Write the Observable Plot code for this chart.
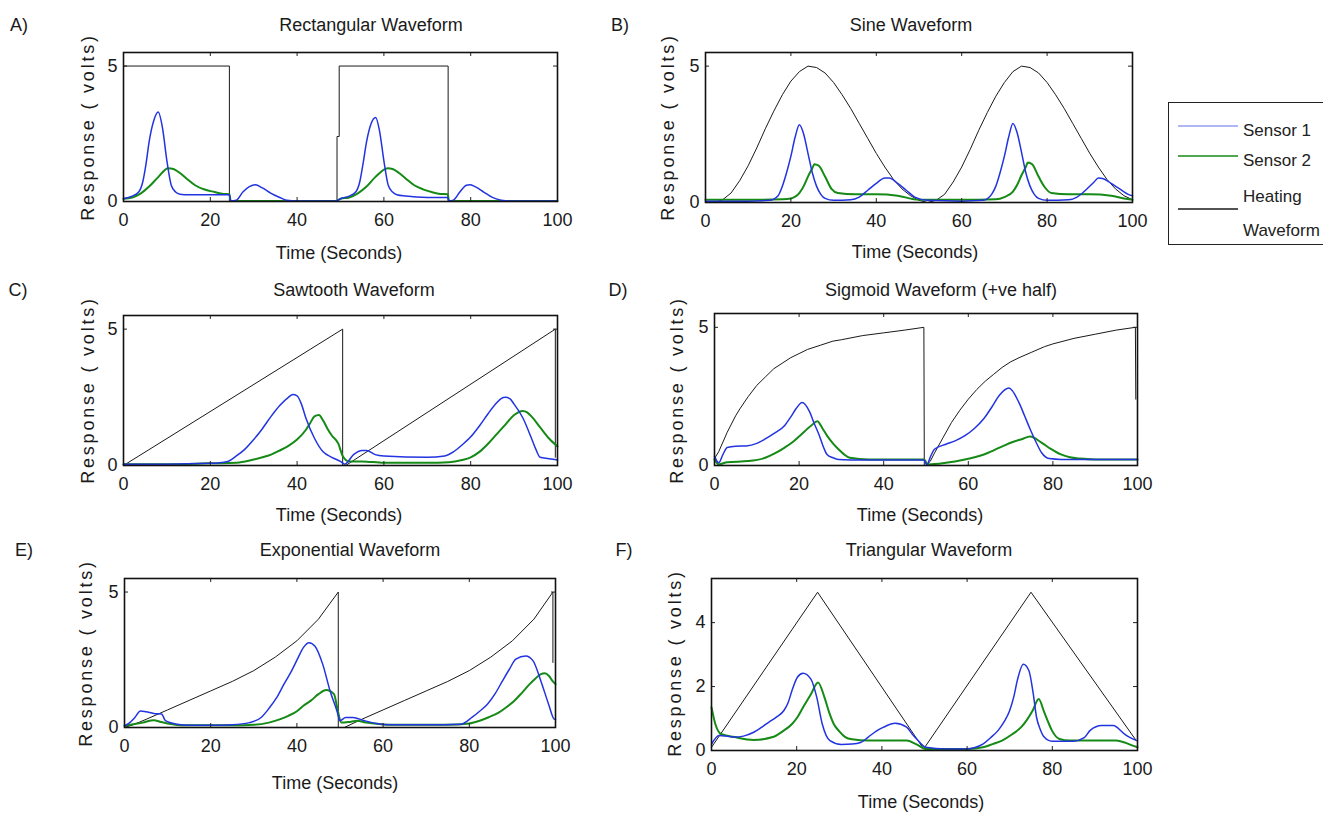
<!DOCTYPE html>
<html><head><meta charset="utf-8">
<script src="https://cdn.jsdelivr.net/npm/d3@7"></script>
<script src="https://cdn.jsdelivr.net/npm/@observablehq/plot@0.6"></script>
<style>
body{margin:0;background:#fff;}
#page{position:relative;width:1323px;height:814px;overflow:hidden;background:#fff;
 font-family:"Liberation Sans",Arial,sans-serif;color:#1a1a1a;}
.lbl{position:absolute;white-space:nowrap;font-size:18px;line-height:1;transform:translate(-50%,-50%);}
.ylab{transform:translate(-50%,-50%) rotate(-90deg);letter-spacing:2.8px;font-size:18px;}
</style></head>
<body><div id="page"></div>
<script>
// ---------- data ----------
const xTicks = [0, 20, 40, 60, 80, 100];
const yTicks5 = [0, 5];
const yTicksF = [0, 2, 4];
const panelLetters = ["A)", "B)", "C)", "D)", "E)", "F)"];
const panelTitles = ["Rectangular Waveform", "Sine Waveform", "Sawtooth Waveform",
  "Sigmoid Waveform (+ve half)", "Exponential Waveform", "Triangular Waveform"];
const xLabel = "Time (Seconds)";
const yLabel = "Response ( volts)";
const seriesNames = ["Sensor 1", "Sensor 2", "Heating\nWaveform"];

// A) rectangular
const rectHeat = [[0,5],[24.4,5],[24.4,0],[49.2,0],[49.2,2.4],[49.7,2.4],[49.7,5],[74.8,5],[74.8,0],[100,0]];
const rectS1 = [[0,0.1],[2,0.2],[3.5,0.35],[4.4,0.7],[5.2,1.4],[5.9,2.2],[7,3.0],[8,3.3],[9,2.7],[10,1.5],[11,0.6],[12,0.35],[13,0.27],[15,0.25],[20,0.25],[24.4,0.25],[24.7,0.02],[26,0.05],[27.5,0.35],[29,0.55],[30.4,0.62],[32,0.5],[34,0.3],[36,0.15],[37.6,0.05],[40,0.02],[49,0.02],[50,0.1],[52,0.2],[53.5,0.35],[54.4,0.7],[55.2,1.4],[56,2.2],[57,2.85],[58.1,3.1],[59,2.6],[60,1.5],[61,0.6],[62,0.35],[63,0.25],[65,0.2],[70,0.15],[74.7,0.15],[75,0.02],[76,0.05],[77.5,0.35],[79,0.6],[79.8,0.62],[81,0.55],[83,0.35],[85,0.15],[87,0.05],[90,0.02],[100,0.02]];
const rectS2 = [[0,0.1],[2,0.15],[4,0.3],[5.9,0.55],[8,0.9],[10.3,1.23],[11.5,1.2],[13,1.05],[14.5,0.85],[16.5,0.6],[18.5,0.45],[21,0.35],[23,0.28],[24.4,0.27],[24.7,0.02],[49,0.02],[50,0.1],[52,0.15],[54,0.3],[56,0.55],[58,0.9],[60.9,1.23],[62,1.2],[63.5,1.05],[65,0.85],[67,0.6],[69,0.45],[71,0.35],[73,0.28],[74.7,0.27],[75,0.02],[100,0.02]];

// B) sine
const sineHeat = [[0,0.02],[2,0],[4,0.1],[6,0.35],[8,0.8],[10,1.35],[12,2.0],[14,2.7],[16,3.35],[18,3.95],[20,4.45],[22,4.8],[24,5.0],[26,4.95],[28,4.75],[30,4.4],[32,3.95],[34,3.45],[36,2.9],[38,2.35],[40,1.8],[42,1.3],[44,0.85],[46,0.5],[48,0.25],[50,0.08],[52,0],[54,0.08],[56,0.3],[58,0.75],[60,1.3],[62,1.95],[64,2.65],[66,3.3],[68,3.9],[70,4.4],[72,4.8],[74,5.0],[76,4.95],[78,4.75],[80,4.4],[82,3.95],[84,3.45],[86,2.9],[88,2.35],[90,1.8],[92,1.3],[94,0.85],[96,0.5],[98,0.25],[100,0.1]];
const sineS1 = [[0,0.05],[5,0.05],[10,0.05],[15,0.08],[17,0.25],[18,0.6],[19,1.1],[20,1.7],[21,2.4],[22,2.85],[23,2.5],[24,1.8],[25,1.1],[26,0.6],[27,0.3],[28,0.15],[30,0.08],[34,0.1],[36,0.2],[38,0.45],[40,0.7],[42,0.9],[43,0.9],[45,0.7],[47,0.45],[49,0.2],[52,0.08],[60,0.05],[65,0.08],[67,0.3],[68,0.6],[69,1.1],[70,1.7],[71,2.4],[72,2.9],[73,2.55],[74,1.85],[75,1.1],[76,0.6],[77,0.3],[78,0.15],[80,0.08],[85,0.1],[87,0.2],[89,0.45],[91,0.75],[92,0.9],[93,0.88],[95,0.7],[97,0.5],[99,0.3],[100,0.25]];
const sineS2 = [[0,0.1],[10,0.1],[18,0.12],[20,0.15],[22,0.35],[23,0.6],[24,0.95],[25,1.25],[25.5,1.4],[26.5,1.35],[28,0.95],[29.5,0.5],[31,0.35],[35,0.3],[40,0.3],[45,0.25],[50,0.1],[60,0.1],[68,0.12],[70,0.2],[72,0.4],[73,0.65],[74,1.0],[75,1.3],[75.5,1.47],[76.5,1.4],[78,0.95],[79.5,0.55],[81,0.35],[85,0.3],[90,0.3],[95,0.25],[98,0.15],[100,0.1]];

// C) sawtooth
const sawHeat = [[0,0],[50.5,5],[50.5,0],[51.2,0],[99.5,5],[99.5,0.3]];
const sawS1 = [[0,0.05],[10,0.05],[20,0.08],[24,0.15],[26,0.35],[28,0.6],[30,0.95],[32,1.35],[34,1.8],[36,2.2],[38,2.5],[39,2.6],[40,2.55],[41,2.25],[42,1.75],[44,1.0],[46,0.5],[48,0.3],[50,0.15],[51,0.05],[53,0.4],[55,0.55],[56,0.55],[58,0.4],[60,0.35],[70,0.3],[74,0.35],[76,0.5],[78,0.75],[80,1.05],[82,1.45],[84,1.9],[86,2.3],[87,2.45],[88,2.5],[89,2.45],[90,2.25],[92,1.75],[94,1.0],[95,0.6],[96,0.3],[98,0.25],[100,0.2]];
const sawS2 = [[0,0.05],[10,0.05],[20,0.08],[26,0.1],[28,0.15],[30,0.22],[32,0.3],[34,0.4],[36,0.55],[38,0.72],[40,0.95],[42,1.3],[43,1.55],[44,1.8],[45,1.85],[46,1.65],[47,1.35],[48,1.1],[49.5,0.8],[50.5,0.35],[52,0.15],[55,0.15],[60,0.1],[70,0.1],[75,0.12],[78,0.2],[80,0.3],[82,0.5],[84,0.8],[86,1.15],[88,1.5],[90,1.85],[92,2.0],[93,1.95],[94,1.8],[96,1.4],[98,1.0],[100,0.7]];

// D) sigmoid (+ve half)
const sigHeat = [[0,0.25],[1,0.5],[2,0.85],[3,1.2],[4,1.5],[5,1.8],[6,2.05],[8,2.5],[10,2.9],[12,3.2],[14,3.5],[16,3.7],[18,3.9],[20,4.05],[22,4.2],[25,4.35],[28,4.5],[30,4.55],[35,4.7],[40,4.8],[45,4.9],[49.5,5.0],[49.6,0],[50,0],[51,0.15],[52,0.45],[54,1.0],[56,1.55],[58,2.0],[60,2.4],[62,2.75],[64,3.05],[66,3.3],[68,3.55],[70,3.75],[72,3.9],[75,4.1],[78,4.3],[80,4.4],[85,4.6],[90,4.75],[95,4.9],[99.5,5.0],[99.6,2.4]];
const sigS1 = [[0,0.34],[1,0.1],[2,0.4],[3,0.65],[5,0.7],[7.5,0.71],[10,0.8],[12,0.96],[14,1.15],[16.6,1.45],[18,1.75],[19.3,2.06],[20.7,2.28],[22.5,1.94],[23.5,1.55],[24.8,1.08],[25.8,0.65],[26.6,0.4],[28,0.28],[29.3,0.22],[35,0.2],[45,0.2],[49.5,0.2],[50.2,0.02],[51,0.3],[52,0.59],[54.7,0.77],[57,0.9],[59.2,1.08],[61.5,1.35],[63.7,1.7],[65.5,2.1],[67.4,2.55],[69.6,2.8],[71.9,2.3],[73.3,1.8],[74.6,1.32],[76,0.85],[77.3,0.47],[79.1,0.25],[82,0.22],[90,0.22],[100,0.22]];
const sigS2 = [[0,0.22],[1,0.04],[3,0.12],[8,0.16],[12,0.28],[14,0.42],[16.6,0.65],[18.5,0.85],[20.2,1.08],[22.9,1.45],[24.3,1.6],[25.5,1.35],[26.6,1.08],[28,0.8],[29.3,0.59],[30.5,0.42],[32,0.28],[36.5,0.22],[45,0.22],[49.5,0.22],[50.5,0.04],[54.7,0.1],[59.2,0.22],[61.5,0.3],[63.7,0.4],[66,0.55],[68.3,0.71],[70.5,0.85],[72.8,0.96],[74.6,1.05],[77.3,0.83],[79.5,0.6],[81.9,0.4],[84,0.3],[86.4,0.25],[90,0.22],[100,0.22]];

// E) exponential
const expHeat = [[0,0],[2,0.1],[5,0.3],[10,0.65],[15,1.0],[20,1.35],[25,1.7],[30,2.1],[35,2.6],[40,3.2],[45,4.0],[49.6,5.0],[49.6,0],[51,0],[55,0.3],[60,0.65],[65,1.0],[70,1.35],[75,1.7],[80,2.1],[85,2.6],[90,3.2],[95,4.0],[99.4,5.0],[99.4,2.4]];
const expS1 = [[0,0.06],[1,0.15],[2.4,0.37],[3.7,0.61],[5,0.58],[6.8,0.52],[8.6,0.5],[9.5,0.25],[12.2,0.12],[15,0.08],[20,0.08],[25,0.1],[29,0.18],[31.7,0.37],[33.5,0.7],[35.3,1.1],[37,1.6],[38.8,2.1],[40.2,2.55],[41.5,2.95],[42.8,3.13],[44.2,3.0],[46,2.33],[47.7,1.35],[49.3,0.61],[50,0.25],[51.3,0.37],[53,0.37],[55.7,0.25],[58.4,0.15],[62,0.1],[70,0.1],[78,0.12],[80.6,0.37],[82.4,0.6],[84.2,0.86],[86,1.25],[87.7,1.72],[89.3,2.15],[90.8,2.52],[93.1,2.64],[94.8,2.46],[96.6,1.72],[98.4,0.86],[99.7,0.31],[100,0.3]];
const expS2 = [[0,0.06],[2,0.12],[4.2,0.18],[6.8,0.27],[8.5,0.2],[10,0.15],[14,0.08],[25,0.08],[30,0.1],[33.5,0.18],[36,0.3],[38,0.43],[40,0.6],[41.5,0.8],[43.3,1.0],[45,1.23],[46.8,1.38],[48.6,1.23],[49.5,0.61],[50.3,0.18],[52,0.2],[54,0.25],[56,0.18],[58,0.15],[62,0.1],[75,0.1],[80,0.15],[82.4,0.25],[84.5,0.38],[86.8,0.55],[88.6,0.75],[90.4,0.98],[92.2,1.28],[94,1.6],[95.3,1.8],[96.6,1.97],[97.5,2.0],[98.5,1.9],[99.3,1.72],[100,1.6]];

// F) triangular
const triHeat = [[0,0.1],[24.9,4.95],[49.8,0.05],[75,4.95],[99.6,0.33]];
const triS1 = [[0,0.2],[1.8,0.47],[3.5,0.45],[5.4,0.42],[7.5,0.45],[9.9,0.57],[11.7,0.72],[13.5,0.89],[15.3,1.05],[17,1.25],[18,1.5],[18.9,1.88],[20.2,2.3],[21.5,2.42],[23.3,2.24],[24.7,1.67],[26,0.83],[27.8,0.31],[30.5,0.19],[33,0.2],[35,0.25],[36.8,0.42],[38.6,0.6],[40.4,0.73],[43.1,0.85],[45.8,0.73],[47.2,0.5],[48.5,0.31],[50.3,0.1],[55,0.05],[60,0.05],[62,0.1],[63.7,0.2],[65.5,0.4],[67.3,0.63],[68.7,0.9],[70,1.25],[71,1.7],[71.8,2.2],[73.2,2.7],[74.5,2.5],[75.5,1.8],[76.3,1.04],[77.2,0.65],[78.1,0.42],[79.9,0.29],[85,0.29],[87.5,0.4],[88.9,0.63],[91.6,0.78],[94.3,0.78],[96.9,0.52],[98.3,0.4],[100,0.3]];
const triS2 = [[0,1.35],[0.9,0.83],[2.2,0.52],[5.4,0.42],[9.9,0.33],[14.4,0.42],[16.7,0.6],[18.9,0.83],[20.2,1.05],[21.5,1.35],[23.3,1.75],[25,2.13],[26.5,1.67],[27.6,1.2],[28.7,0.83],[30,0.6],[31.4,0.42],[33,0.35],[36.8,0.31],[45.8,0.31],[48,0.2],[50.3,0.05],[60,0.05],[63.7,0.1],[66,0.2],[68.2,0.31],[70.5,0.5],[72.7,0.73],[74,0.95],[75.4,1.25],[76.8,1.61],[78.1,1.2],[79,0.9],[79.9,0.63],[81.7,0.36],[84,0.31],[95,0.31],[97,0.25],[98.7,0.16],[100,0.1]];

// ---------- layout / style ----------
const FONT = '"Liberation Sans",Arial,sans-serif';
const C1 = "#2233e0", C2 = "#168a16", CH = "#1a1a1a";
const panels = [
  {l:123, r:557, t:52,  b:201, yMax:5.5, yt:yTicks5, heat:rectHeat, s1:rectS1, s2:rectS2,
   letter:[19,25], title:[371,25], xl:[339,253], yl:[88,127]},
  {l:705, r:1132, t:52, b:202, yMax:5.5, yt:yTicks5, heat:sineHeat, s1:sineS1, s2:sineS2,
   letter:[620,25], title:[911,25], xl:[915,252], yl:[668,127]},
  {l:123, r:557, t:315, b:465, yMax:5.5, yt:yTicks5, heat:sawHeat, s1:sawS1, s2:sawS2,
   letter:[18,290], title:[354,290], xl:[339,515], yl:[88,390]},
  {l:714, r:1137, t:313, b:465, yMax:5.5, yt:yTicks5, heat:sigHeat, s1:sigS1, s2:sigS2,
   letter:[618,290], title:[941,290], xl:[920,515], yl:[677,390]},
  {l:124, r:555, t:578, b:727, yMax:5.5, yt:yTicks5, heat:expHeat, s1:expS1, s2:expS2,
   letter:[24,550], title:[350,550], xl:[335,783], yl:[86,653]},
  {l:711, r:1137, t:578, b:750, yMax:5.38, yt:yTicksF, heat:triHeat, s1:triS1, s2:triS2,
   letter:[624,550], title:[929,550], xl:[921,802], yl:[675,663]}
];

const page = document.getElementById("page");
function addText(txt, x, y, cls) {
  const d = document.createElement("div");
  d.className = "lbl " + (cls || "");
  d.textContent = txt;
  d.style.left = x + "px"; d.style.top = y + "px";
  page.appendChild(d);
}

panels.forEach((p, i) => {
  const mL = 60, mT = 10, mR = 14, mB = 36;
  const fw = p.r - p.l, fh = p.b - p.t;
  const plot = Plot.plot({
    width: fw + mL + mR, height: fh + mT + mB,
    marginLeft: mL, marginRight: mR, marginTop: mT, marginBottom: mB,
    x: {domain: [0, 100]},
    y: {domain: [0, p.yMax]},
    style: {fontFamily: FONT, fontSize: "18px", color: "#1a1a1a", background: "transparent", overflow: "visible"},
    marks: [
      Plot.line(p.heat, {x: d => d[0], y: d => d[1], stroke: CH, strokeWidth: 1}),
      Plot.line(p.s2, {x: d => d[0], y: d => d[1], stroke: C2, strokeWidth: 2, curve: "monotone-x"}),
      Plot.line(p.s1, {x: d => d[0], y: d => d[1], stroke: C1, strokeWidth: 1.5, curve: "monotone-x"}),
      Plot.tickX(xTicks, {x: d => d, insetTop: fh - 4, stroke: "#222"}),
      Plot.tickX(xTicks, {x: d => d, insetBottom: fh - 4, stroke: "#222"}),
      Plot.tickY(p.yt, {y: d => d, insetRight: fw - 4, stroke: "#222"}),
      Plot.tickY(p.yt, {y: d => d, insetLeft: fw - 4, stroke: "#222"}),
      Plot.axisX(xTicks, {tickSize: 0, tickPadding: 12, label: null, fontSize: 18}),
      Plot.axisY(p.yt, {tickSize: 0, tickPadding: 6, label: null, fontSize: 18}),
      Plot.frame({stroke: "#111", strokeWidth: 1.6})
    ]
  });
  plot.style.position = "absolute";
  plot.style.left = (p.l - mL) + "px";
  plot.style.top = (p.t - mT) + "px";
  page.appendChild(plot);
  addText(panelLetters[i], p.letter[0], p.letter[1]);
  addText(panelTitles[i], p.title[0], p.title[1]);
  addText(xLabel, p.xl[0], p.xl[1]);
  addText(yLabel, p.yl[0], p.yl[1], "ylab");
});

// ---------- legend ----------
const leg = d3.select(page).append("div")
  .style("position", "absolute").style("left", "1168px").style("top", "102px")
  .style("width", "170px").style("height", "141px")
  .style("border", "1.6px solid #222").style("background", "#fff");
const lsvg = leg.append("svg").attr("width", 170).attr("height", 141)
  .style("font-family", FONT).style("font-size", "17px");
const legColors = [C1, C2, CH];
const legY = [23, 53, 106];
seriesNames.forEach((name, i) => {
  lsvg.append("line").attr("x1", 9).attr("x2", 69).attr("y1", legY[i]).attr("y2", legY[i])
    .attr("stroke", legColors[i]).attr("stroke-width", i === 0 ? 1 : 1.5).attr("opacity", i === 0 ? 0.7 : 1);
  const lines = name.split("\n");
  if (lines.length === 1) {
    lsvg.append("text").attr("x", 74).attr("y", legY[i] + 4).attr("dy", "0.35em").attr("fill", "#222").text(lines[0]);
  } else {
    lsvg.append("text").attr("x", 74).attr("y", 93).attr("dy", "0.35em").attr("fill", "#222").text(lines[0]);
    lsvg.append("text").attr("x", 74).attr("y", 127).attr("dy", "0.35em").attr("fill", "#222").text(lines[1]);
  }
});
</script>
</body></html>
